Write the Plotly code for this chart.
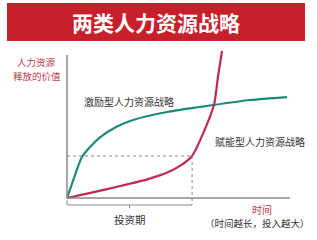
import plotly.graph_objects as go

# ---- data (abstract units: time 0-10, value 0-10) ----
incentive_t = [0, 0.27, 0.67, 1.1, 1.48, 2.2, 2.96, 4.48, 5.96, 8.21, 9.87]
incentive_v = [0, 1.15, 2.77, 3.55, 4.1, 4.8, 5.27, 5.81, 6.15, 6.62, 6.82]

empower_t = [0, 0.9, 1.8, 2.7, 3.6, 4.5, 5.1, 5.61, 6.10, 6.59, 6.77, 6.95]
empower_v = [0, 0.3, 0.6, 0.92, 1.26, 1.72, 2.2, 2.84, 4.35, 6.28, 8.18, 9.93]

invest_t = 5.61   # end of investment period
invest_v = 2.84

title_text = "两类人力资源战略"
y_label = ["人力资源", "释放的价值"]
incentive_label = "激励型人力资源战略"
empower_label = "赋能型人力资源战略"
period_label = "投资期"
x_label = "时间"
x_note = "（时间越长，投入越大）"

FONT = "Noto Sans CJK SC"
TEAL = "#1a8a7b"
CRIMSON = "#c02a4e"
GRAY = "#8a8a8a"
LABEL_RED = "#c23a4c"

fig = go.Figure()

fig.add_trace(go.Scatter(x=incentive_t, y=incentive_v, mode="lines",
                         line=dict(color=TEAL, width=2.2, shape="spline", smoothing=0.7),
                         hoverinfo="skip", showlegend=False))
fig.add_trace(go.Scatter(x=empower_t, y=empower_v, mode="lines",
                         line=dict(color=CRIMSON, width=2.2, shape="spline", smoothing=0.6),
                         hoverinfo="skip", showlegend=False))

shapes = []
# banner
shapes.append(dict(type="rect", xref="paper", yref="paper", x0=7/317, x1=305/317,
                   y0=1-41/240, y1=1-3/240, fillcolor="#c71f2b", line=dict(width=0), layer="below"))
# axes
shapes.append(dict(type="line", x0=0, x1=0, y0=0, y1=9.66, line=dict(color=GRAY, width=1.5)))
shapes.append(dict(type="line", x0=0, x1=10, y0=0, y1=0, line=dict(color=GRAY, width=1.5)))
# dotted guides
shapes.append(dict(type="line", x0=0, x1=invest_t, y0=invest_v, y1=invest_v,
                   line=dict(color=GRAY, width=1, dash="dot")))
shapes.append(dict(type="line", x0=invest_t, x1=invest_t, y0=invest_v, y1=-0.47,
                   line=dict(color=GRAY, width=1, dash="dot")))
# bracket
shapes.append(dict(type="line", x0=0, x1=invest_t, y0=-0.47, y1=-0.47, line=dict(color=GRAY, width=1)))
shapes.append(dict(type="line", x0=0, x1=0, y0=-0.14, y1=-0.47, line=dict(color=GRAY, width=1)))
shapes.append(dict(type="line", x0=invest_t / 2, x1=invest_t / 2, y0=-0.47, y1=-0.68,
                   line=dict(color=GRAY, width=1)))

ann = []
ann.append(dict(text="<b>" + title_text + "</b>", xref="paper", yref="paper", x=155.5/317, y=1-22/240,
                showarrow=False, font=dict(family=FONT, size=21, color="white"),
                xanchor="center", yanchor="middle"))
ann.append(dict(text=y_label[0], x=-1.36, y=(198-62)/14.8, showarrow=False,
                font=dict(family=FONT, size=9.5, color=LABEL_RED), xanchor="center", yanchor="middle"))
ann.append(dict(text=y_label[1], x=-1.34, y=(198-75.5)/14.8, showarrow=False,
                font=dict(family=FONT, size=9.5, color=LABEL_RED), xanchor="center", yanchor="middle"))
ann.append(dict(text=incentive_label, x=0.65, y=6.55, showarrow=False,
                font=dict(family=FONT, size=10, color="#333333"), xanchor="left", yanchor="middle"))
ann.append(dict(text=empower_label, x=6.55, y=3.85, showarrow=False,
                font=dict(family=FONT, size=10, color="#333333"), xanchor="left", yanchor="middle"))
ann.append(dict(text=period_label, x=invest_t / 2, y=-1.42, showarrow=False,
                font=dict(family=FONT, size=10.5, color="#333333"), xanchor="center", yanchor="middle"))
ann.append(dict(text=x_label, x=8.74, y=-0.75, showarrow=False,
                font=dict(family=FONT, size=10, color=LABEL_RED), xanchor="center", yanchor="middle"))
ann.append(dict(text=x_note, x=8.52, y=-1.7, showarrow=False,
                font=dict(family=FONT, size=9.5, color="#333333"), xanchor="center", yanchor="middle"))

fig.update_layout(
    width=317, height=240,
    margin=dict(l=0, r=0, t=0, b=0),
    paper_bgcolor="white", plot_bgcolor="white",
    xaxis=dict(range=[-67/22.3, 10 + 27/22.3], visible=False, fixedrange=True),
    yaxis=dict(range=[-42/14.8, 198/14.8], visible=False, fixedrange=True),
    shapes=shapes, annotations=ann,
)

fig.write_html("out.html", config={"displayModeBar": False})
